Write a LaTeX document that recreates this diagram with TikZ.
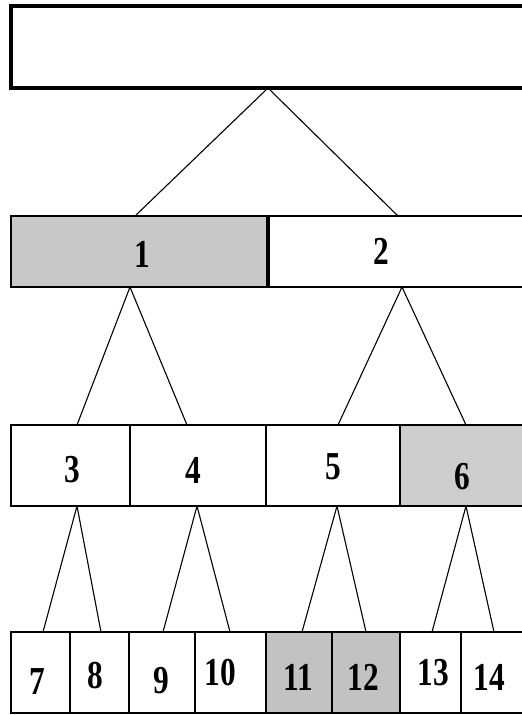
\documentclass[tikz,border=0pt]{standalone}
\usepackage{fontspec}
\usepackage{graphicx}
\setmainfont{Liberation Serif}
\definecolor{boxgray}{HTML}{C8C8C8}
\definecolor{leafgray}{HTML}{C2C2C2}
\newcommand{\dig}[1]{\scalebox{0.95}[1.2]{\bfseries #1}}
\begin{document}
\begin{tikzpicture}[x=1pt,y=-1pt,
  box/.style={draw=black, line width=2.8pt, anchor=north west, inner sep=0pt, outer sep=0pt},
  lbl/.style={font=\fontsize{33}{33}\selectfont, inner sep=0pt, outer sep=0pt},
  edge/.style={draw=black, line width=1.1pt}]
\useasboundingbox (0,0) rectangle (522,715);
\fill[white] (0,0) rectangle (522,715);
% root
\node[box, line width=3.4pt, minimum width=519pt, minimum height=82pt] (r) at (11,6) {};
% level 1
\node[box, fill=boxgray, minimum width=257pt, minimum height=71pt] (n1) at (11,216) {};
\node[box, minimum width=262pt, minimum height=71pt] (n2) at (268,216) {};
\draw[line width=3.8pt] (n1.north east) -- (n1.south east);
% level 2
\node[box, minimum width=119pt, minimum height=81pt] (n3) at (11,425) {};
\node[box, minimum width=136pt, minimum height=81pt] (n4) at (130,425) {};
\node[box, minimum width=134pt, minimum height=81pt] (n5) at (266,425) {};
\node[box, fill=boxgray!90, minimum width=130pt, minimum height=81pt] (n6) at (400,425) {};
% level 3
\node[box, minimum width=59pt, minimum height=81pt] (n7) at (11,632) {};
\node[box, minimum width=59pt, minimum height=81pt] (n8) at (70,632) {};
\node[box, minimum width=66pt, minimum height=81pt] (n9) at (129,632) {};
\node[box, minimum width=71pt, minimum height=81pt] (n10) at (195,632) {};
\node[box, fill=leafgray, minimum width=66pt, minimum height=81pt] (n11) at (266,632) {};
\node[box, fill=leafgray, minimum width=68pt, minimum height=81pt] (n12) at (332,632) {};
\node[box, minimum width=61pt, minimum height=81pt] (n13) at (400,632) {};
\node[box, minimum width=69pt, minimum height=81pt] (n14) at (461,632) {};
% labels
\node[lbl] (t1) at (142,254) {\dig{1}};
\node[lbl] (t2) at (381,251) {\dig{2}};
\node[lbl] (t3) at (72.5,470) {\dig{3}};
\node[lbl] (t4) at (193,470) {\dig{4}};
\node[lbl] (t5) at (333,467) {\dig{5}};
\node[lbl] (t6) at (462,477) {\dig{6}};
\node[lbl] (t7) at (37.5,682) {\dig{7}};
\node[lbl] (t8) at (95,676) {\dig{8}};
\node[lbl] (t9) at (161,681) {\dig{9}};
\node[lbl] (t10) at (220,673) {\dig{10}};
\node[lbl] (t11) at (298,677) {\dig{11}};
\node[lbl] (t12) at (363,677) {\dig{12}};
\node[lbl] (t13) at (433,673) {\dig{13}};
\node[lbl] (t14) at (489,677) {\dig{14}};
% connectors
\draw[edge] ([xshift=-2.5pt]r.south) -- ([xshift=-4.5pt]n1.north);
\draw[edge] ([xshift=-2.5pt]r.south) -- ([xshift=-1pt]n2.north);
\draw[edge] ([xshift=-9.5pt]n1.south) -- ([xshift=6.5pt]n3.north);
\draw[edge] ([xshift=-9.5pt]n1.south) -- ([xshift=-11pt]n4.north);
\draw[edge] ([xshift=3pt]n2.south) -- ([xshift=5pt]n5.north);
\draw[edge] ([xshift=3pt]n2.south) -- ([xshift=1pt]n6.north);
\draw[edge] ([xshift=6.5pt]n3.south) -- ([xshift=2.5pt]n7.north);
\draw[edge] ([xshift=6.5pt]n3.south) -- ([xshift=1.5pt]n8.north);
\draw[edge] ([xshift=-1pt]n4.south) -- ([xshift=1pt]n9.north);
\draw[edge] ([xshift=-1pt]n4.south) -- ([xshift=-0.5pt]n10.north);
\draw[edge] ([xshift=4pt]n5.south) -- ([xshift=3pt]n11.north);
\draw[edge] ([xshift=4pt]n5.south) -- (n12.north);
\draw[edge] ([xshift=1pt]n6.south) -- ([xshift=1.5pt]n13.north);
\draw[edge] ([xshift=1pt]n6.south) -- ([xshift=-1.5pt]n14.north);
\end{tikzpicture}
\end{document}
